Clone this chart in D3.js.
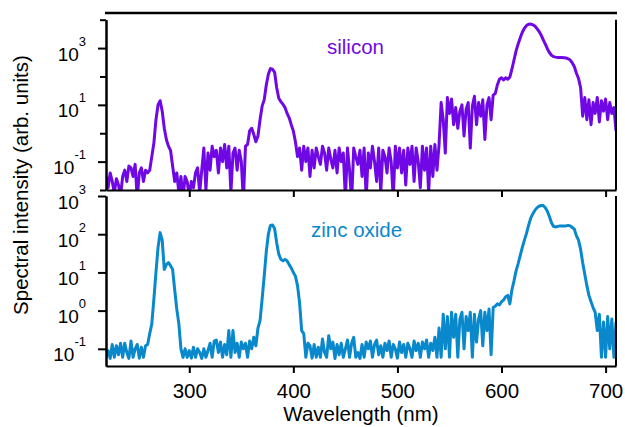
<!DOCTYPE html>
<html>
<head>
<meta charset="utf-8">
<script src="https://cdn.jsdelivr.net/npm/d3@7"></script>
<style>
	body { margin: 0; background: #fff; }
	text { font-family: "Liberation Sans", Arial, Helvetica, sans-serif; }
</style>
</head>
<body>
<div id="spectraViz"></div>
<script>

// wavelength grid (nm), one reading every 2 nm from 220 to 710
var wavelengths = d3.range(220, 711, 2)

// silicon spectrum (arb. units)
var silicon = [
	0.03, 0.012, 0.04, 0.02, 0.008, 0.025, 0.015, 0.006, 0.03, 0.05,     // 220
	0.02, 0.07, 0.06, 0.03, 0.08, 0.005, 0.04, 0.06, 0.02, 0.05,         // 240
	0.04, 0.05, 0.15, 0.45, 3, 10, 14, 6, 1.5, 0.6,                      // 260
	0.35, 0.25, 0.07, 0.02, 0.04, 0.008, 0.03, 0.005, 0.03, 0.02,        // 280
	0.006, 0.02, 0.012, 0.04, 0.06, 0.008, 0.05, 0.3, 0.01, 0.2,         // 300
	0.05, 0.35, 0.15, 0.25, 0.04, 0.3, 0.1, 0.4, 0.06, 0.35,             // 320
	0.008, 0.2, 0.3, 0.05, 0.25, 0.1, 0.004, 0.35, 0.4, 1.2,             // 340
	1.5, 0.9, 0.5, 0.8, 3, 9, 15, 50, 120, 190,                          // 360
	180, 140, 40, 17, 13, 10.5, 8, 5, 3.5, 2,                            // 380
	1.2, 0.5, 0.15, 0.3, 0.05, 0.35, 0.1, 0.3, 0.03, 0.25,               // 400
	0.06, 0.3, 0.15, 0.08, 0.35, 0.2, 0.05, 0.3, 0.12, 0.06,             // 420
	0.25, 0.04, 0.3, 0.1, 0.2, 0.005, 0.3, 0.05, 0.004, 0.3,             // 440
	0.15, 0.08, 0.25, 0.03, 0.3, 0.005, 0.2, 0.06, 0.35, 0.1,            // 460
	0.02, 0.3, 0.008, 0.25, 0.15, 0.04, 0.3, 0.1, 0.005, 0.35,           // 480
	0.06, 0.3, 0.04, 0.25, 0.015, 0.3, 0.08, 0.35, 0.02, 0.3,            // 500
	0.1, 0.012, 0.35, 0.05, 0.3, 0.008, 0.35, 0.03, 0.4, 0.05,           // 520
	0.4, 12, 3, 0.2, 18, 5, 16, 2, 8, 1.5,                               // 540
	6, 10, 0.8, 7, 12, 0.3, 9, 20, 2, 12,                                // 560
	4, 15, 0.6, 10, 18, 3, 22, 25, 50, 80,                               // 580
	90, 75, 90, 80, 95, 180, 380, 800, 1400, 2300,                       // 600
	3600, 5000, 6200, 6900, 7000, 6700, 6000, 4900, 3900, 2900,          // 620
	2000, 1400, 950, 700, 560, 500, 480, 470, 470, 470,                  // 640
	460, 450, 420, 380, 300, 220, 130, 85, 40, 4,                        // 660
	18, 3, 15, 2, 12, 5, 18, 2.5, 14, 6,                                 // 680
	16, 3, 12, 5, 8, 1.2                                                 // 700
]

// zinc oxide spectrum (arb. units)
var zincOxide = [
	0.06, 0.09, 0.056, 0.13, 0.06, 0.12, 0.07, 0.14, 0.06, 0.14,         // 220
	0.08, 0.056, 0.16, 0.06, 0.1, 0.13, 0.057, 0.11, 0.06, 0.12,         // 240
	0.13, 0.25, 0.45, 2, 10, 45, 110, 70, 12, 16,                        // 260
	18, 15, 12, 3.5, 1.1, 0.45, 0.1, 0.06, 0.1, 0.06,                    // 280
	0.09, 0.057, 0.11, 0.06, 0.1, 0.08, 0.056, 0.1, 0.06, 0.09,          // 300
	0.14, 0.06, 0.16, 0.17, 0.08, 0.15, 0.06, 0.13, 0.07, 0.3,           // 320
	0.06, 0.3, 0.08, 0.14, 0.06, 0.15, 0.1, 0.14, 0.06, 0.16,            // 340
	0.1, 0.2, 0.12, 0.35, 0.55, 2, 8, 35, 100, 170,                      // 360
	175, 140, 60, 30, 22, 20, 22, 20, 16, 13,                            // 380
	10, 8, 4.5, 1.6, 0.3, 0.25, 0.06, 0.14, 0.12, 0.057,                 // 400
	0.13, 0.06, 0.11, 0.06, 0.18, 0.08, 0.06, 0.22, 0.1, 0.15,           // 420
	0.056, 0.13, 0.07, 0.14, 0.06, 0.1, 0.17, 0.06, 0.14, 0.2,           // 440
	0.06, 0.08, 0.056, 0.13, 0.06, 0.15, 0.1, 0.16, 0.06, 0.13,          // 460
	0.17, 0.07, 0.12, 0.06, 0.14, 0.09, 0.16, 0.06, 0.13, 0.1,           // 480
	0.057, 0.15, 0.08, 0.13, 0.06, 0.14, 0.1, 0.06, 0.16, 0.09,          // 500
	0.14, 0.06, 0.15, 0.1, 0.17, 0.06, 0.14, 0.09, 0.2, 0.06,            // 520
	0.35, 0.06, 0.8, 0.1, 0.7, 0.06, 0.9, 0.2, 0.8, 0.06,                // 540
	0.6, 0.9, 0.1, 0.7, 0.3, 0.9, 0.06, 0.8, 0.15, 0.6,                  // 560
	1.0, 0.12, 0.9, 0.3, 1.1, 0.07, 1.2, 1.3, 1.5, 1.4,                  // 580
	1.7, 1.9, 2.3, 2.5, 1.5, 3.5, 6, 11, 17, 28,                         // 600
	45, 70, 105, 170, 260, 340, 420, 490, 540, 565,                      // 620
	560, 500, 400, 290, 200, 160, 155, 160, 165, 165,                    // 640
	165, 165, 170, 165, 150, 135, 90, 70, 40, 18,                        // 660
	9, 4.5, 2.5, 1.7, 1.2, 0.9, 0.3, 0.8, 0.06, 0.5,                     // 680
	0.06, 0.7, 0.1, 0.6, 0.06, 0.5                                       // 700
]

var xTicks = [300, 400, 500, 600, 700]
var siliconDecades = [1e-2, 1e-1, 1, 10, 100, 1e3, 1e4]
var siliconLabelled = [1e-1, 10, 1e3]
var zincDecades = [1e-1, 1, 10, 100, 1e3]

function initialize() {

	var width = 625
		height = 427
		left = 106
		right = 616
		purple = "#7008e6"
		blue = "#0a88cc"

	var svg = d3.select("#spectraViz")
		.append("svg")
		.attr("width", width)
		.attr("height", height)

	var x = d3.scaleLinear()
		.domain([220, 710])
		.range([left, right])

	// two stacked log panels
	var panels = [
		{ name: "silicon", values: silicon, color: purple,
			y: d3.scaleLog().domain([1e-2, 1e4]).range([190, 19.7]),
			ticks: siliconDecades, labels: siliconLabelled,
			labelX: 327, labelY: 54 },
		{ name: "zinc oxide", values: zincOxide, color: blue,
			y: d3.scaleLog().domain([0.0355, 1e3]).range([366, 196]),
			ticks: zincDecades, labels: zincDecades,
			labelX: 311, labelY: 236.5 }
	]

	// frame line above the top panel
	svg.append("line")
		.attr("x1", left - 1)
		.attr("x2", right + 1)
		.attr("y1", 13)
		.attr("y2", 13)
		.attr("stroke", "black")
		.attr("stroke-width", 2.5)

	panels.forEach(function(p, i) {

		var y = p.y
		var y0 = y.range()[0]
			y1 = y.range()[1]

		svg.append("clipPath")
			.attr("id", "clip" + i)
			.append("rect")
			.attr("x", left)
			.attr("y", y1)
			.attr("width", right - left)
			.attr("height", y0 - y1)

		var line = d3.line()
			.x(function(d) { return x(d[0]) })
			.y(function(d) { return y(Math.max(d[1], 1e-4)) })

		svg.append("path")
			.datum(d3.zip(wavelengths, p.values))
			.attr("clip-path", "url(#clip" + i + ")")
			.attr("fill", "none")
			.attr("stroke", p.color)
			.attr("stroke-width", 3)
			.attr("stroke-linejoin", "round")
			.attr("d", line)

		svg.append("text")
			.attr("x", p.labelX)
			.attr("y", p.labelY)
			.attr("font-size", 20.5)
			.attr("fill", p.color)
			.text(p.name)

		// bottom axis of the panel, ticks pointing out
		var xAxis = svg.append("g")
			.attr("transform", "translate(0," + y0 + ")")
			.call(d3.axisBottom(x).tickValues(xTicks).tickSize(7).tickSizeOuter(0)
				.tickFormat(i == 1 ? d3.format("d") : function() { return "" }))
		xAxis.selectAll("text")
			.attr("font-size", 20.5)
			.attr("dy", "1.05em")
			.attr("fill", "black")

		// left axis: long ticks where labelled, short ones elsewhere
		svg.append("g")
			.attr("transform", "translate(" + left + ",0)")
			.call(d3.axisLeft(y).tickValues(p.labels).tickSize(8).tickSizeOuter(0)
				.tickFormat(function() { return "" }))
		svg.append("g")
			.attr("transform", "translate(" + left + ",0)")
			.call(d3.axisLeft(y).tickValues(p.ticks.filter(function(t) { return p.labels.indexOf(t) < 0 }))
				.tickSize(6).tickSizeOuter(0)
				.tickFormat(function() { return "" }))

		// plain right axis
		svg.append("line")
			.attr("x1", right)
			.attr("x2", right)
			.attr("y1", y1)
			.attr("y2", y0)
			.attr("stroke", "black")
			.attr("stroke-width", 2)

		// 10^n tick labels
		var lab = svg.selectAll(".lab" + i)
			.data(p.labels)
			.enter()
			.append("text")
			.attr("class", "lab" + i)
			.attr("x", 86)
			.attr("y", function(d) { return y(d) + 12.6 })
			.attr("text-anchor", "end")
			.attr("fill", "black")
		lab.append("tspan")
			.attr("font-size", 19)
			.text("10")
		lab.append("tspan")
			.attr("font-size", 13)
			.attr("dy", -15)
			.text(function(d) { return String(Math.round(Math.log10(d))) })
	})

	svg.selectAll(".domain, .tick line")
		.attr("stroke", "black")
		.attr("stroke-width", 2)

	svg.append("text")
		.attr("x", (left + right) / 2)
		.attr("y", 421)
		.attr("text-anchor", "middle")
		.attr("font-size", 20.5)
		.text("Wavelength (nm)")

	svg.append("text")
		.attr("transform", "translate(27.5,185) rotate(-90)")
		.attr("text-anchor", "middle")
		.attr("font-size", 20.5)
		.text("Spectral intensity (arb. units)")
}

initialize()
</script>
</body>
</html>
